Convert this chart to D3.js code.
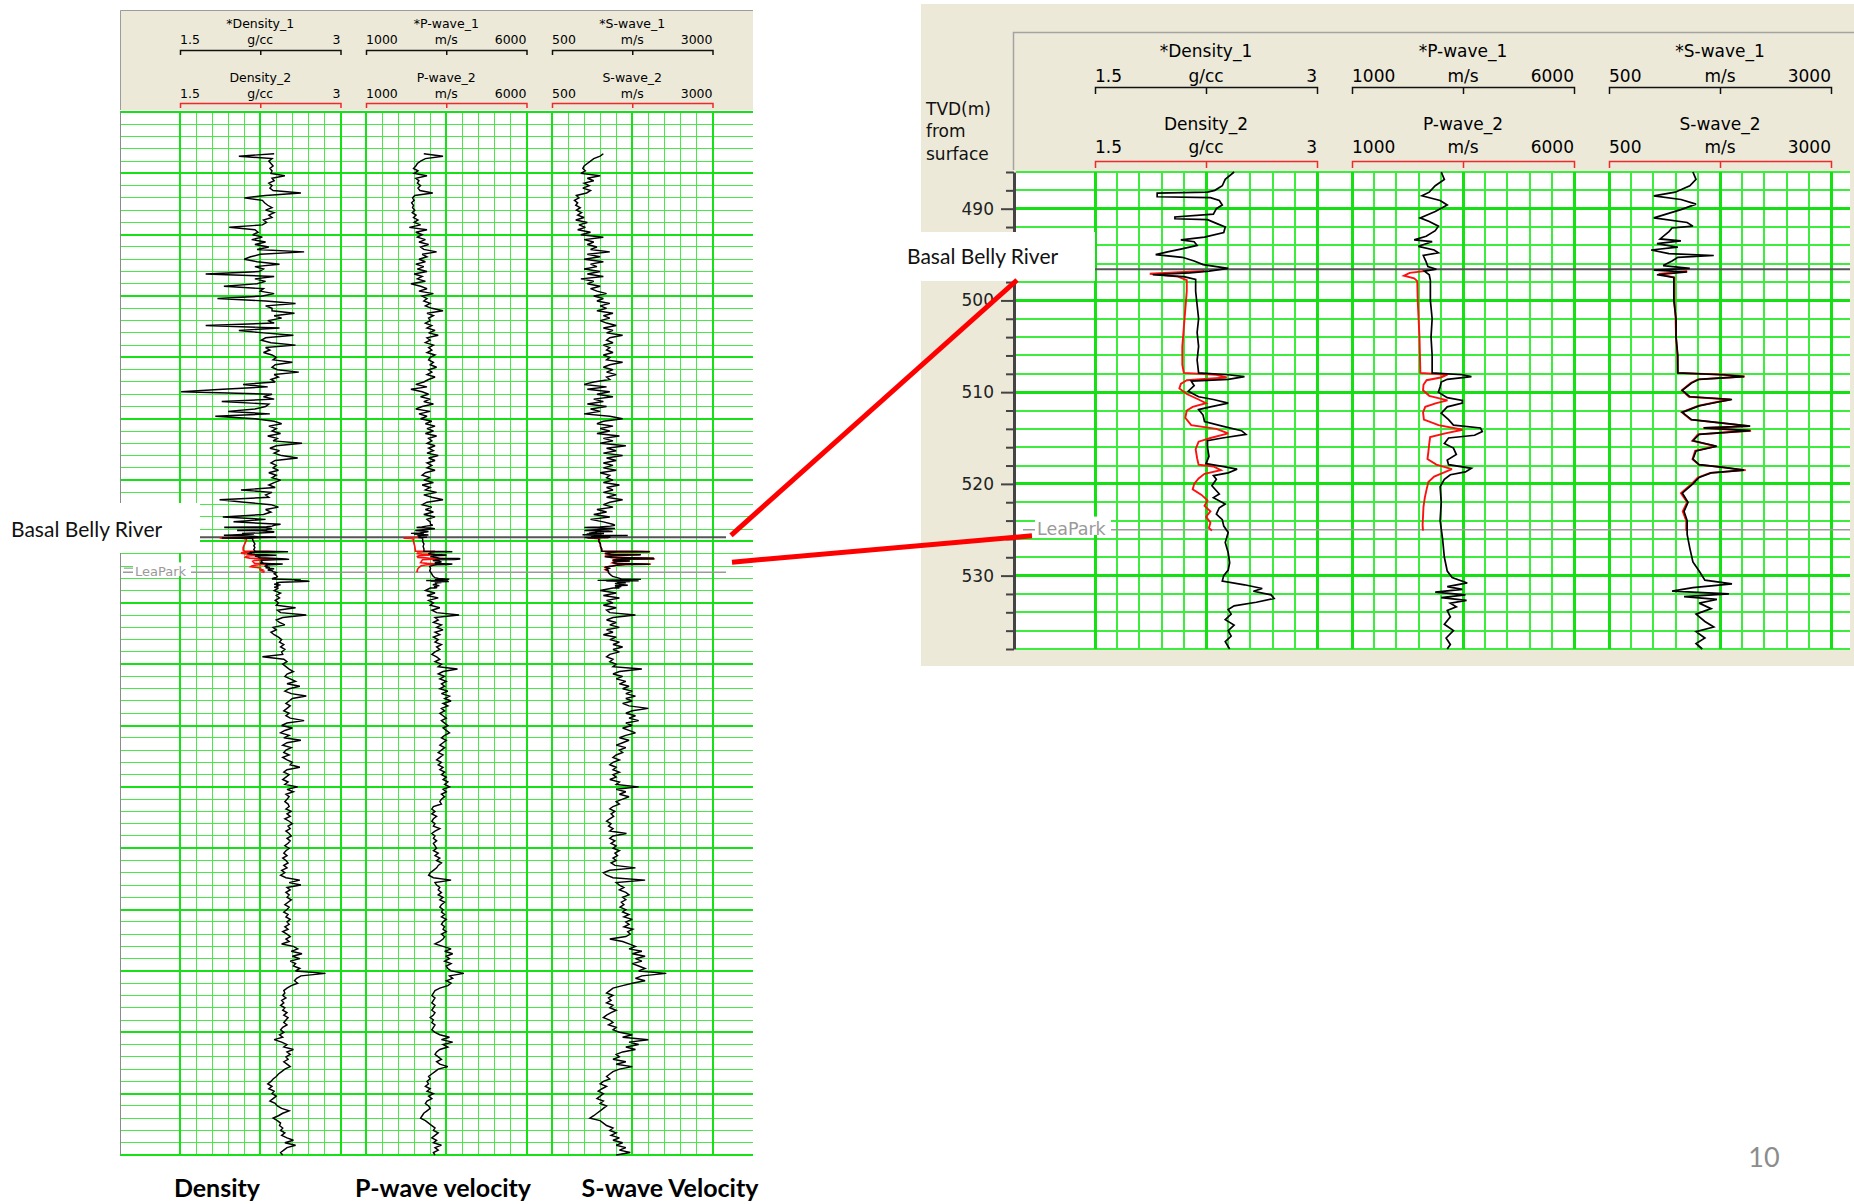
<!DOCTYPE html>
<html>
<head>
<meta charset="utf-8">
<script src="https://cdn.jsdelivr.net/npm/d3@7"></script>
<style>
  html, body { margin: 0; padding: 0; background: #ffffff; }
  svg { display: block; }
</style>
</head>
<body>
<svg id="chart" width="1854" height="1204"></svg>
<script>
// ---------------- Track definitions ----------------
const trackKeys    = ["Density", "P-wave", "S-wave"];
const scaleMin     = [1.5, 1000, 500];
const scaleMax     = [3, 6000, 3000];
const scaleMinText = ["1.5", "1000", "500"];
const scaleMaxText = ["3", "6000", "3000"];
const scaleUnits   = ["g/cc", "m/s", "m/s"];
const bottomTitles = ["Density", "P-wave velocity", "S-wave Velocity"];

// Formation tops (TVD, m)
const markerNames  = ["Basal Belly River", "LeaPark"];
const markerDepths = [496.6, 525.0];

// ---------------- Overview logs, 2 m samples ----------------
const SAMPLE_STEP = 2;
const UPPER_TOP = 184;   // first sample of the upper interval (m)
const LOWER_TOP = 538;   // first sample of the lower interval (m)

const densityUpper = [
  2.38, 2.05, 2.36, 2.33, 2.35, 2.37, 2.34, 2.36,
  2.35, 2.48, 2.36, 2.38, 2.33, 2.36, 2.34, 2.37, 2.63, 2.30,
  2.10, 2.27, 2.29, 2.32, 2.36, 2.30, 2.38, 2.33, 2.36, 2.28,
  2.31, 2.27, 1.96, 2.20, 2.23, 2.18, 2.27, 2.17, 2.30, 2.20,
  2.33, 2.22, 2.66, 2.25, 2.16, 2.10, 2.22, 2.43, 2.20, 2.28,
  2.24, 1.74, 2.38, 2.20, 2.30, 2.22, 1.91, 2.28, 2.25, 2.38,
  2.27, 1.85, 2.30, 2.58, 2.30, 2.36, 2.36, 2.57, 2.38, 2.45,
  2.32, 2.38, 1.74, 2.43, 2.05, 2.28, 2.56, 2.30, 2.26, 2.35,
  2.58, 2.30, 2.34, 2.28, 2.36, 2.40, 2.37, 2.55, 2.39, 2.36,
  2.41, 2.61, 2.38, 2.42, 2.35, 2.39, 2.09, 2.32, 1.90, 1.51,
  2.36, 2.28, 2.38, 1.89, 2.33, 2.30, 2.20, 1.95, 2.34, 1.83,
  2.20, 2.38, 2.45, 2.33, 2.40, 2.36, 2.44, 2.32, 2.41, 2.37,
  2.64, 2.40, 2.34, 2.43, 2.38, 2.45, 2.60, 2.39, 2.35, 2.40,
  2.37, 2.42, 2.33, 2.40, 2.36, 2.44, 2.38, 2.33, 2.39, 2.07,
  2.36, 2.30, 2.33, 1.87, 2.10, 2.35, 2.42, 2.30, 2.35, 2.28,
  1.90, 2.30, 2.00
];
const pwaveUpper = [
  2800, 3400, 2850, 2700, 2600, 2550, 2480, 2620,
  2500, 2900, 2550, 2650, 2600, 2700, 2620, 2680, 3080, 2520,
  2450, 2500, 2420, 2480, 2450, 2520, 2440, 2560, 2480, 2620,
  2500, 2700, 2350, 2900, 2550, 2750, 2600, 2850, 2650, 2950,
  2700, 2800, 3200, 2750, 2900, 2650, 2850, 2550, 2800, 2600,
  2900, 2500, 2750, 2600, 2850, 2400, 2700, 2900, 2650, 3100,
  2750, 2900, 2800, 3000, 2850, 3050, 3400, 2900, 3100, 2950,
  3000, 2850, 3050, 2900, 3150, 2950, 3250, 2900, 3000, 2850,
  3100, 2950, 3050, 2900, 3150, 3000, 2950, 3100, 3000, 3200,
  2950, 3050, 2900, 3150, 2950, 2800, 2550, 2900, 2400, 2750,
  2950, 2700, 3000, 2800, 3100, 2750, 2550, 3000, 2650, 2900,
  2700, 3050, 2850, 3150, 2900, 3100, 2850, 3200, 2950, 3050,
  2900, 3150, 2950, 3100, 2900, 3250, 2950, 3150, 2900, 3050,
  2900, 3150, 2850, 2750, 3000, 2800, 3100, 2750, 3000, 2850,
  3200, 2800, 3050, 3400, 2900, 2750, 3050, 2850, 3100, 2800,
  3150, 2900, 3000
];
const swaveUpper = [
  1300, 1250, 1150, 1100, 1050, 1000, 980, 1020,
  950, 1250, 1050, 1150, 1000, 1080, 980, 1100, 1040, 880,
  920, 850, 900, 870, 940, 880, 960, 900, 1000, 870,
  1050, 920, 1020, 900, 1100, 950, 1300, 1000, 1150, 1050,
  1200, 1100, 1400, 1050, 1250, 1000, 1300, 1100, 1200, 1000,
  1250, 1050, 1300, 950, 1150, 1050, 1250, 1100, 1200, 1350,
  1150, 1300, 1200, 1400, 1250, 1350, 1200, 1450, 1300, 1400,
  1250, 1350, 1500, 1300, 1450, 1350, 1600, 1400, 1350, 1450,
  1300, 1400, 1350, 1450, 1300, 1400, 1350, 1600, 1400, 1300,
  1450, 1350, 1500, 1350, 1400, 1150, 1000, 1350, 1050, 1400,
  1200, 1450, 1150, 1300, 1050, 1350, 1100, 1250, 1000, 1400,
  1600, 1300, 1200, 1450, 1250, 1400, 1200, 1550, 1300, 1450,
  1250, 1650, 1350, 1500, 1300, 1600, 1350, 1500, 1300, 1450,
  1300, 1500, 1250, 1400, 1350, 1450, 1300, 1550, 1350, 1450,
  1300, 1500, 1350, 1600, 1400, 1300, 1450, 1200, 1350, 1150,
  1400, 1100, 1300
];

const densityLower = [
  2.42, 2.38, 2.44, 2.40, 2.43, 2.39, 2.42, 2.40, 2.58, 2.41,
  2.44, 2.68, 2.46, 2.40, 2.43, 2.48, 2.37, 2.40, 2.35, 2.38,
  2.42, 2.45, 2.43, 2.47, 2.44, 2.48, 2.45, 2.46, 2.27, 2.47,
  2.50, 2.46, 2.49, 2.52, 2.56, 2.50, 2.48, 2.53, 2.58, 2.50,
  2.62, 2.52, 2.48, 2.54, 2.68, 2.55, 2.52, 2.49, 2.53, 2.50,
  2.47, 2.52, 2.49, 2.53, 2.66, 2.50, 2.45, 2.55, 2.48, 2.44,
  2.52, 2.47, 2.63, 2.50, 2.46, 2.54, 2.49, 2.47, 2.52, 2.46,
  2.50, 2.55, 2.53, 2.62, 2.50, 2.47, 2.52, 2.49, 2.46, 2.51,
  2.48, 2.60, 2.50, 2.56, 2.49, 2.52, 2.50, 2.48, 2.51, 2.52,
  2.49, 2.54, 2.50, 2.53, 2.48, 2.52, 2.55, 2.51, 2.53, 2.49,
  2.52, 2.54, 2.50, 2.53, 2.51, 2.48, 2.52, 2.49, 2.47, 2.50,
  2.46, 2.49, 2.51, 2.47, 2.50, 2.45, 2.48, 2.44, 2.49, 2.62,
  2.52, 2.63, 2.50, 2.53, 2.49, 2.52, 2.50, 2.54, 2.51, 2.48,
  2.52, 2.50, 2.47, 2.51, 2.49, 2.53, 2.50, 2.52, 2.48, 2.51,
  2.46, 2.50, 2.53, 2.49, 2.52, 2.45, 2.56, 2.60, 2.54, 2.64,
  2.55, 2.62, 2.53, 2.58, 2.56, 2.62, 2.58, 2.86, 2.63, 2.59,
  2.57, 2.60, 2.54, 2.50, 2.47, 2.48, 2.46, 2.49, 2.45, 2.47,
  2.44, 2.48, 2.46, 2.50, 2.47, 2.51, 2.49, 2.47, 2.50, 2.46,
  2.44, 2.47, 2.43, 2.46, 2.38, 2.45, 2.50, 2.47, 2.56, 2.50,
  2.53, 2.49, 2.51, 2.47, 2.50, 2.53, 2.48, 2.45, 2.42, 2.40,
  2.37, 2.35, 2.32, 2.36, 2.33, 2.38, 2.36, 2.40, 2.37, 2.34,
  2.39, 2.41, 2.45, 2.52, 2.46, 2.42, 2.37, 2.41, 2.44, 2.43,
  2.46, 2.44, 2.48, 2.45, 2.50, 2.56, 2.48, 2.58, 2.50, 2.47,
  2.44, 2.46
];
const pwaveLower = [
  3000, 2850, 3150, 2900, 3250, 2950, 3100, 3000, 3300, 3050,
  3200, 3900, 3150, 3250, 3100, 3350, 3200, 3400, 3150, 3300,
  3100, 3250, 3150, 3350, 3200, 3300, 3150, 3050, 3200, 3300,
  3150, 3350, 3250, 3850, 3400, 3250, 3450, 3300, 3500, 3350,
  3450, 3300, 3550, 3350, 3600, 3450, 3650, 3400, 3550, 3350,
  3450, 3300, 3400, 3500, 3350, 3450, 3550, 3400, 3500, 3600,
  3450, 3350, 3500, 3400, 3300, 3450, 3350, 3250, 3400, 3300,
  3200, 3350, 3250, 3400, 3300, 3450, 3350, 3500, 3400, 3550,
  3450, 3600, 3400, 3500, 3350, 3450, 3350, 3300, 3350, 3100,
  3050, 3150, 3050, 3200, 3100, 3050, 3150, 3100, 3300, 3150,
  3050, 3150, 3100, 3200, 3100, 3150, 3200, 3100, 3250, 3150,
  3300, 3200, 3350, 3250, 3200, 3100, 3000, 2950, 3100, 3650,
  3150, 3200, 3300, 3250, 3350, 3250, 3400, 3300, 3450, 3350,
  3300, 3400, 3350, 3450, 3350, 3500, 3400, 3350, 3450, 3400,
  3500, 3350, 3450, 3400, 3300, 3150, 3400, 3650, 3450, 3700,
  3500, 3600, 3450, 3650, 3500, 3550, 3650, 4050, 3600, 3700,
  3500, 3650, 3550, 3300, 3150, 3100, 3050, 3150, 3100, 3050,
  3150, 3100, 3050, 3150, 3100, 3000, 3100, 3050, 3150, 3100,
  3050, 3150, 3300, 3600, 3350, 3700, 3400, 3550, 3300, 3200,
  3150, 3250, 3350, 3200, 3300, 3550, 3250, 3150, 3050, 2950,
  3000, 2900, 2950, 2850, 3000, 2900, 3100, 2950, 3050, 2900,
  2850, 2950, 3000, 2900, 2800, 2750, 2700, 2850, 2950, 3050,
  3150, 3100, 3250, 3150, 3050, 3200, 3100, 3350, 3150, 3250,
  3100, 3150
];
const swaveLower = [
  1450, 1250, 1500, 1300, 1550, 1350, 1450, 1300, 1500, 1350,
  1400, 1800, 1450, 1350, 1500, 1400, 1550, 1350, 1450, 1300,
  1500, 1400, 1550, 1450, 1600, 1450, 1550, 1400, 1350, 1450,
  1400, 1500, 1450, 1900, 1550, 1450, 1600, 1500, 1650, 1550,
  1700, 1600, 1750, 1650, 1800, 1650, 1750, 1600, 1700, 2000,
  1750, 1650, 1800, 1700, 1850, 1650, 1750, 1600, 1700, 1800,
  1650, 1550, 1700, 1600, 1500, 1650, 1550, 1600, 1500, 1450,
  1550, 1450, 1400, 1500, 1450, 1550, 1450, 1500, 1400, 1550,
  1500, 1850, 1500, 1650, 1550, 1700, 1600, 1500, 1550, 1450,
  1400, 1480, 1420, 1460, 1400, 1350, 1420, 1380, 1450, 1400,
  1660, 1450, 1400, 1480, 1420, 1500, 1450, 1550, 1480, 1520,
  1450, 1500, 1420, 1480, 1800, 1400, 1300, 1350, 1450, 1950,
  1500, 1550, 1620, 1550, 1650, 1700, 1600, 1650, 1580, 1620,
  1560, 1650, 1600, 1700, 1620, 1750, 1650, 1700, 1620, 1760,
  1680, 1720, 1650, 1400, 1600, 1700, 1800, 1700, 1900, 1750,
  1950, 1800, 1900, 1750, 1850, 1950, 1850, 2280, 1900, 1800,
  1950, 1750, 1600, 1450, 1400, 1350, 1450, 1380, 1420, 1350,
  1450, 1400, 1500, 1420, 1350, 1300, 1400, 1450, 1380, 1500,
  1450, 1550, 1750, 1600, 2000, 1700, 1850, 1650, 1800, 1600,
  1500, 1550, 1450, 1650, 1500, 1750, 1550, 1450, 1400, 1350,
  1400, 1300, 1250, 1350, 1280, 1220, 1300, 1250, 1200, 1300,
  1250, 1350, 1300, 1250, 1200, 1150, 1090, 1250, 1300, 1350,
  1450, 1400, 1500, 1420, 1550, 1450, 1600, 1500, 1650, 1550,
  1720, 1500
];

// ---------------- Detail interval 486-538 m, [depth, value] ----------------
const density1Detail = [
  [486.0,2.44],[486.8,2.38],[487.5,2.36],[488.0,2.31],[488.2,2.26],[488.3,1.92],[488.7,1.92],[488.8,2.28],
  [489.1,2.34],[489.6,2.36],[490.0,2.32],[490.6,2.30],[490.9,2.04],[491.1,2.04],[491.2,2.26],[491.6,2.32],
  [492.0,2.38],[492.6,2.37],[493.1,2.24],[493.4,2.08],[493.6,2.17],[494.0,2.19],[494.4,2.08],
  [494.7,1.99],[495.0,1.91],[495.3,2.09],[495.7,2.17],[496.1,2.23],[496.5,2.40],[496.8,2.27],
  [497.0,2.14],[497.2,1.89],[497.4,2.10],[497.7,2.18],[499.0,2.18],[500.5,2.19],[502.0,2.20],
  [503.5,2.19],[505.0,2.20],[506.5,2.19],[507.9,2.20],[508.1,2.40],[508.3,2.51],[508.6,2.40],
  [508.8,2.15],[509.3,2.17],[509.9,2.13],[510.5,2.20],[510.8,2.30],[511.2,2.40],[511.6,2.28],
  [511.9,2.20],[512.5,2.23],[513.2,2.24],[513.7,2.36],[514.2,2.49],[514.6,2.52],[515.0,2.36],
  [515.3,2.26],[516.0,2.26],[517.0,2.27],[517.8,2.25],[518.1,2.36],[518.4,2.46],[518.8,2.40],
  [519.1,2.30],[519.5,2.32],[520.2,2.29],[521.1,2.34],[521.5,2.30],[522.2,2.38],[522.6,2.34],
  [523.3,2.32],[523.9,2.36],[524.6,2.37],[525.3,2.40],[526.4,2.38],[527.5,2.40],[528.6,2.41],
  [529.4,2.40],[530.0,2.37],[530.6,2.36],[531.0,2.51],[531.4,2.63],[531.7,2.57],[532.1,2.69],
  [532.5,2.71],[532.9,2.59],[533.3,2.44],[533.7,2.40],[534.2,2.42],[534.8,2.38],[535.4,2.44],
  [536.0,2.40],[536.6,2.42],[537.2,2.38],[538.0,2.41]
];
const density2Detail = [
  [496.8,2.24],[497.1,1.87],[497.4,2.06],[497.8,2.12],[499.0,2.12],[501.0,2.11],[503.0,2.10],
  [505.0,2.09],[507.0,2.09],[507.9,2.10],[508.1,2.32],[508.4,2.39],[508.7,2.12],[509.1,2.08],
  [509.6,2.07],[510.2,2.12],[510.8,2.20],[511.2,2.25],[511.6,2.16],[512.0,2.12],[512.8,2.11],
  [513.6,2.15],[514.0,2.32],[514.5,2.40],[515.0,2.28],[515.4,2.20],[516.2,2.18],[517.2,2.19],
  [517.9,2.20],[518.1,2.30],[518.5,2.35],[518.9,2.24],[519.4,2.20],[520.0,2.17],[520.6,2.16],
  [521.2,2.22],[521.8,2.26],[522.4,2.24],[523.0,2.28],[523.6,2.25],[524.2,2.28],[524.8,2.27],
  [525.1,2.29]
];
const pwave1Detail = [
  [486.0,3010],[486.8,3080],[487.5,2875],[488.2,2740],[488.6,2575],[489.1,2985],[489.6,3145],
  [490.3,2875],[491.0,2535],[491.4,2740],[491.9,2945],[492.4,2875],[493.0,2670],[493.4,2400],
  [493.6,2805],[494.1,2495],[494.5,2850],[494.8,2945],[495.1,2605],[495.8,2670],[496.3,2710],
  [496.6,2900],[496.8,2630],[497.2,2740],[497.8,2765],[500.0,2765],[502.0,2805],[504.0,2780],
  [506.0,2805],[507.9,2805],[508.1,3485],[508.3,3690],[508.6,3145],[508.9,3010],[509.4,2985],
  [510.0,2945],[510.6,3145],[510.9,3485],[511.2,3485],[511.6,3145],[512.3,3010],[513.0,3175],
  [513.6,3285],[513.9,3895],[514.3,3935],[514.7,3760],[515.0,3175],[515.6,3080],[516.1,3285],
  [516.8,3350],[517.4,3145],[517.9,3175],[518.3,3690],[518.7,3555],[519.0,3215],[519.5,3080],
  [520.3,2985],[522.0,3010],[524.0,2985],[526.0,3040],[528.0,3080],[529.5,3145],[530.2,3255],
  [530.8,3595],[531.2,3145],[531.5,3485],[531.8,2875],[532.1,3555],[532.4,3010],[532.7,3580],
  [533.0,3215],[533.4,3350],[533.8,3145],[534.5,3215],[535.3,3080],[536.0,3285],[536.8,3120],
  [537.5,3215],[538.0,3145]
];
const pwave2Detail = [
  [496.8,2630],[497.0,2300],[497.3,2170],[497.6,2400],[497.9,2470],[500.0,2480],[502.0,2500],
  [504.0,2520],[506.0,2530],[507.9,2540],[508.1,3150],[508.4,3000],[508.7,2680],[509.2,2610],
  [509.8,2600],[510.4,2740],[510.9,3150],[511.2,2900],[511.6,2650],[512.2,2600],[513.0,2620],
  [513.6,2950],[514.1,3490],[514.5,3100],[514.9,2760],[515.6,2740],[516.5,2720],[517.3,2700],
  [517.9,2900],[518.4,3250],[518.8,3050],[519.2,2850],[519.8,2720],[520.6,2680],[521.5,2640],
  [522.5,2610],[523.5,2600],[524.5,2590],[525.1,2600]
];
const swave1Detail = [
  [486.0,1445],[486.8,1480],[487.5,1410],[488.2,1245],[488.6,1005],[489.0,1310],[489.5,1480],
  [490.1,1310],[491.0,1005],[491.5,1380],[491.9,1445],[492.1,1210],[492.5,1175],[493.3,1075],
  [493.5,1310],[493.8,1040],[494.2,1275],[494.5,975],[494.9,1175],[495.1,1680],[495.3,1275],
  [495.7,1210],[496.2,1110],[496.5,1410],[496.7,1005],[496.9,1380],[497.2,1040],[497.5,1230],
  [500.0,1230],[502.0,1255],[504.0,1255],[506.0,1275],[507.9,1275],[508.1,1785],[508.3,2020],
  [508.6,1515],[509.0,1430],[509.8,1325],[510.5,1410],[510.8,1885],[511.1,1715],[511.5,1515],
  [512.2,1325],[513.0,1430],[513.7,2090],[513.9,1570],[514.2,2090],[514.6,1515],[515.3,1445],
  [515.9,1715],[516.4,1480],[517.3,1445],[517.9,1515],[518.2,1785],[518.5,2020],[518.8,1650],
  [519.3,1515],[520.0,1445],[521.0,1325],[522.0,1390],[523.0,1345],[524.0,1380],[525.5,1380],
  [527.0,1410],[528.5,1445],[529.5,1515],[530.5,1580],[530.9,1885],[531.3,1445],[531.7,1210],
  [532.0,1850],[532.3,1345],[532.6,1715],[533.0,1515],[533.6,1650],[534.2,1480],[535.0,1580],
  [535.6,1680],[536.1,1480],[536.8,1580],[537.4,1480],[538.0,1550]
];
const swave2Detail = [
  [496.8,1380],[497.1,1060],[497.5,1235],[500.0,1235],[502.0,1250],[504.0,1255],[506.0,1270],
  [507.9,1275],[508.1,1800],[508.3,2030],[508.6,1500],[509.0,1420],[509.8,1320],[510.5,1400],
  [510.8,1870],[511.1,1700],[511.5,1500],[512.2,1320],[513.0,1420],[513.7,2080],[513.9,1560],
  [514.2,2100],[514.6,1500],[515.3,1440],[515.9,1700],[516.4,1470],[517.3,1440],[517.9,1510],
  [518.2,1790],[518.5,2040],[518.8,1640],[519.3,1500],[520.0,1430],[521.0,1310],[522.0,1380],
  [523.0,1330],[524.0,1370],[525.1,1370]
];

// Per-track grouping of the arrays above
const trackSeries = [
  { upper: densityUpper, lower: densityLower, run1: density1Detail, run2: density2Detail },
  { upper: pwaveUpper,   lower: pwaveLower,   run1: pwave1Detail,   run2: pwave2Detail },
  { upper: swaveUpper,   lower: swaveLower,   run1: swave1Detail,   run2: swave2Detail }
];

// ---------------- Layout ----------------
const svg = d3.select("#chart");
const BEIGE = "#ece9d8";
const HEADER_FONT = "'DejaVu Sans', Verdana, sans-serif";
const SLIDE_FONT = "Lato, 'Open Sans', sans-serif";

const panels = [
  { // full-depth overview
    x0: 120, x1: 753, gridX0: 120, yTop: 112, yBot: 1155, depth: [150, 1000],
    gridStep: 10, gridMajor: 50,
    trackLeft: [180, 366, 552], trackW: 160.5,
    hdr: { top: 10, bottom: 110, font: 12.5, name1: 28, scale1: 44, line1: 50,
           name2: 82, scale2: 98, line2: 103, tick: 5 },
    thinW: 1, thickW: 2, thin: "#48e848", thick: "#16e016", curveW: 1.45, axis: false
  },
  { // close-up of the Basal Belly River - LeaPark interval
    x0: 1014, x1: 1850, gridX0: 1016, yTop: 172, yBot: 649, depth: [486, 538],
    gridStep: 2, gridMajor: 10,
    trackLeft: [1095, 1352, 1609], trackW: 222,
    hdr: { top: 32, bottom: 168, font: 17, name1: 57, scale1: 82, line1: 87,
           name2: 130, scale2: 153, line2: 161, tick: 7 },
    thinW: 2, thickW: 3, thin: "#3ded3d", thick: "#14e014", curveW: 1.7, axis: true
  }
];

// Panel chrome
svg.append("rect").attr("x", 921).attr("y", 4).attr("width", 933).attr("height", 662).attr("fill", BEIGE);
svg.append("rect").attr("x", 120).attr("y", 10).attr("width", 633).attr("height", 100)
  .attr("fill", BEIGE);
svg.append("path").attr("d", "M120.5,110 V10.5 H753").attr("fill", "none").attr("stroke", "#9c9c9c").attr("stroke-width", 1);
svg.append("path").attr("d", "M1013.5,170 V32.5 H1854").attr("fill", "none").attr("stroke", "#a3a3a3").attr("stroke-width", 1.5);

// Right-panel depth caption
[["TVD(m)", 115], ["from", 137], ["surface", 160]].forEach(([t, yb]) => {
  svg.append("text").attr("x", 926).attr("y", yb).text(t)
    .attr("font-family", HEADER_FONT).attr("font-size", 17).attr("fill", "#111");
});

panels.forEach(p => {
  const g = svg.append("g");
  const y = d3.scaleLinear().domain(p.depth).range([p.yTop, p.yBot]);
  p.y = y;

  g.append("rect").attr("x", p.x0).attr("y", p.yTop).attr("width", p.x1 - p.x0)
    .attr("height", p.yBot - p.yTop).attr("fill", "#fff");

  const hTicks = y.ticks(Math.round((p.depth[1] - p.depth[0]) / p.gridStep));
  const isMajor = d => Math.abs(d % p.gridMajor) < 1e-6;

  const xScales = trackKeys.map((k, i) =>
    d3.scaleLinear().domain([scaleMin[i], scaleMax[i]]).range([p.trackLeft[i], p.trackLeft[i] + p.trackW]));
  p.x = xScales;

  const gridG = g.append("g").attr("shape-rendering", "crispEdges");
  const vLines = [];
  xScales.forEach((x, i) => {
    d3.range(11).forEach(j => vLines.push({ x: x(scaleMin[i] + (scaleMax[i] - scaleMin[i]) * j / 10), major: j % 5 === 0 }));
  });

  // thin lines first, heavy lines on top
  [false, true].forEach(major => {
    gridG.append("g").selectAll("line").data(hTicks.filter(d => isMajor(d) === major)).join("line")
      .attr("x1", p.gridX0).attr("x2", p.x1).attr("y1", d => y(d)).attr("y2", d => y(d))
      .attr("stroke", major ? p.thick : p.thin).attr("stroke-width", major ? p.thickW : p.thinW);
    gridG.append("g").selectAll("line").data(vLines.filter(v => v.major === major)).join("line")
      .attr("x1", d => d.x).attr("x2", d => d.x).attr("y1", p.yTop).attr("y2", p.yBot)
      .attr("stroke", major ? p.thick : p.thin).attr("stroke-width", major ? p.thickW : p.thinW);
  });

  if (!p.axis) {
    g.append("line").attr("x1", p.x0 + 0.5).attr("x2", p.x0 + 0.5).attr("y1", p.yTop).attr("y2", p.yBot)
      .attr("stroke", "#8a8a8a").attr("stroke-width", 1);
  } else {
    const ax = d3.axisLeft(y).tickValues(hTicks).tickSize(8).tickSizeOuter(0).tickPadding(12)
      .tickFormat(d => isMajor(d) ? d : "");
    const axG = g.append("g").attr("transform", `translate(${p.x0},0)`).call(ax);
    axG.select(".domain").attr("stroke", "#444").attr("stroke-width", 3);
    axG.selectAll(".tick line").attr("stroke", "#444").attr("stroke-width", 2)
      .attr("x2", d => isMajor(d) ? -13 : -8);
    axG.selectAll(".tick text").attr("font-family", HEADER_FONT).attr("font-size", 17).attr("fill", "#222");
  }

  // Track headers
  const h = p.hdr;
  xScales.forEach((x, i) => {
    const left = p.trackLeft[i], right = left + p.trackW, mid = (left + right) / 2;
    const rows = [
      { name: "*" + trackKeys[i] + "_1", ny: h.name1, sy: h.scale1, ly: h.line1, color: "#111" },
      { name: trackKeys[i] + "_2", ny: h.name2, sy: h.scale2, ly: h.line2, color: "#f02a2a" }
    ];
    rows.forEach(r => {
      const t = (tx, ty, s, anchor) => g.append("text").attr("x", tx).attr("y", ty).text(s)
        .attr("text-anchor", anchor).attr("font-family", HEADER_FONT).attr("font-size", h.font).attr("fill", "#000");
      t(mid, r.ny, r.name, "middle");
      t(left, r.sy, scaleMinText[i], "start");
      t(mid, r.sy, scaleUnits[i], "middle");
      t(right, r.sy, scaleMaxText[i], "end");
      const bracket = d3.axisBottom(x).tickValues([(scaleMin[i] + scaleMax[i]) / 2])
        .tickSize(h.tick).tickSizeOuter(h.tick).tickFormat("");
      const bg = g.append("g").attr("transform", `translate(0,${r.ly})`).call(bracket);
      bg.selectAll("path, line").attr("stroke", r.color).attr("stroke-width", 1.5);
    });
  });
});

// Formation markers and callout boxes
const [overview, detail] = panels;
const yL = overview.y, yR = detail.y;

function markerLine(x1, x2, yy, color, w) {
  svg.append("line").attr("x1", x1).attr("x2", x2).attr("y1", yy).attr("y2", yy)
    .attr("stroke", color).attr("stroke-width", w);
}
// Basal Belly River
markerLine(200, 726, yL(markerDepths[0]), "#555", 2);
markerLine(1095, 1850, yR(markerDepths[0]), "#555", 2);
// LeaPark
markerLine(123, 726, yL(markerDepths[1]), "#9b9b9b", 1.5);
markerLine(124, 133, yL(markerDepths[1]) - 4, "#9b9b9b", 1.2);
markerLine(1023, 1850, yR(markerDepths[1]), "#9b9b9b", 1.5);

// Curves (second runs in red underneath, first runs in black)
const line = (x, y) => d3.line().x(d => x(d[1])).y(d => y(d[0])).curve(d3.curveLinear);
panels.forEach((p, pi) => {
  const cg = svg.append("g").attr("fill", "none").attr("stroke-linejoin", "miter").attr("stroke-miterlimit", 3);
  trackSeries.forEach((s, i) => {
    const x = p.x[i];
    let black;
    if (pi === 0) {
      black = s.upper.map((v, j) => [UPPER_TOP + j * SAMPLE_STEP, v])
        .concat(s.run1, s.lower.map((v, j) => [LOWER_TOP + j * SAMPLE_STEP, v]));
    } else {
      black = s.run1;
    }
    cg.append("path").attr("d", line(x, p.y)(s.run2)).attr("stroke", "#ff1010").attr("stroke-width", p.curveW + 0.2);
    cg.append("path").attr("d", line(x, p.y)(black)).attr("stroke", "#000").attr("stroke-width", p.curveW);
  });
});

// LeaPark labels
function leaLabel(x, yy, w, fs) {
  svg.append("rect").attr("x", x - 2).attr("y", yy - fs * 0.75).attr("width", w).attr("height", fs * 1.05).attr("fill", "#fff");
  svg.append("text").attr("x", x).attr("y", yy + fs * 0.28).text(markerNames[1])
    .attr("font-family", HEADER_FONT).attr("font-size", fs).attr("fill", "#9a9a9a");
}
leaLabel(135, yL(markerDepths[1]), 58, 13);
leaLabel(1037, yR(markerDepths[1]), 76, 17.5);

// Basal Belly River callouts
function bbrBox(x, yTop, w, hgt, tx, ty) {
  svg.append("rect").attr("x", x).attr("y", yTop).attr("width", w).attr("height", hgt).attr("fill", "#fff");
  svg.append("text").attr("x", tx).attr("y", ty).text(markerNames[0])
    .attr("font-family", SLIDE_FONT).attr("font-size", 21).attr("fill", "#111");
}
bbrBox(0, 503, 200, 50, 11, 537);
bbrBox(899, 232, 196, 49, 907, 264);

// Red connectors from the overview tops to the close-up
const conn = [
  [[731, yL(markerDepths[0]) - 2], [1017, 280]],
  [[732, yL(markerDepths[1]) - 10], [1032, yR(markerDepths[1]) + 6]]
];
svg.append("g").selectAll("line").data(conn).join("line")
  .attr("x1", d => d[0][0]).attr("y1", d => d[0][1]).attr("x2", d => d[1][0]).attr("y2", d => d[1][1])
  .attr("stroke", "#ff0000").attr("stroke-width", 5);

// Track captions under the overview
const captionX = [217, 443, 670];
svg.append("g").selectAll("text").data(bottomTitles).join("text")
  .attr("x", (d, i) => captionX[i]).attr("y", 1197).attr("text-anchor", "middle")
  .attr("font-family", SLIDE_FONT).attr("font-weight", 700).attr("font-size", 25).attr("fill", "#000")
  .text(d => d);

// Slide number
svg.append("text").attr("x", 1764).attr("y", 1167).attr("text-anchor", "middle")
  .attr("font-family", SLIDE_FONT).attr("font-size", 27).attr("fill", "#8c8c8c").text("10");
</script>
</body>
</html>
